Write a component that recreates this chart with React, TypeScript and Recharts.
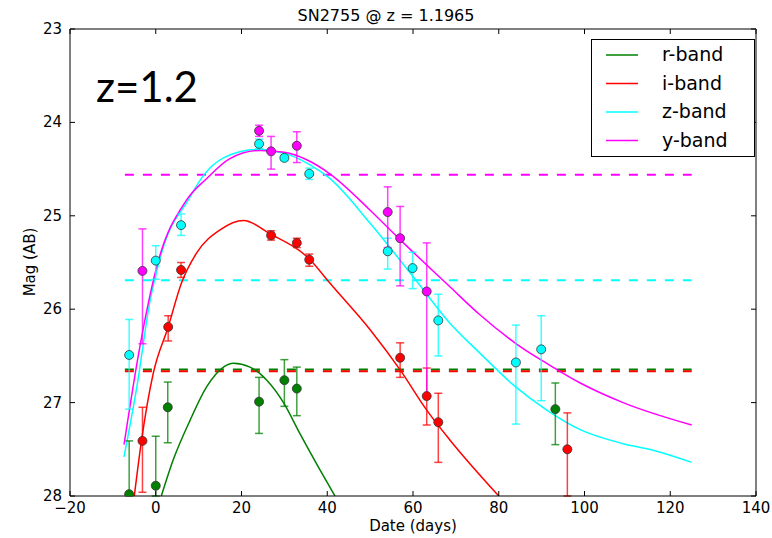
import React from "react";
import { ComposedChart, Line, Scatter, XAxis, YAxis, ErrorBar, Legend } from "recharts";

const xTicks = [-20, 0, 20, 40, 60, 80, 100, 120, 140];
const yTicks = [23, 24, 25, 26, 27, 28];
const magFaint = 28;

// photometry: day, mag, err = [towards bright, towards faint]
const rPoints = [
  { day: -6.2, mag: 27.98, err: [0.57, 0.57] },
  { day: 0, mag: 27.89, err: [0.53, 0.53] },
  { day: 2.8, mag: 27.05, err: [0.27, 0.38] },
  { day: 24.1, mag: 26.99, err: [0.26, 0.34] },
  { day: 30, mag: 26.76, err: [0.22, 0.28] },
  { day: 32.9, mag: 26.85, err: [0.23, 0.29] },
  { day: 93.2, mag: 27.07, err: [0.28, 0.38] },
];

const iPoints = [
  { day: -3.1, mag: 27.41, err: [0.36, 0.55] },
  { day: 2.9, mag: 26.19, err: [0.12, 0.15] },
  { day: 5.9, mag: 25.58, err: [0.08, 0.08] },
  { day: 26.9, mag: 25.21, err: [0.05, 0.05] },
  { day: 32.9, mag: 25.29, err: [0.05, 0.05] },
  { day: 35.8, mag: 25.47, err: [0.06, 0.07] },
  { day: 57, mag: 26.52, err: [0.16, 0.21] },
  { day: 63.2, mag: 26.93, err: [0.3, 0.31] },
  { day: 65.9, mag: 27.21, err: [0.31, 0.43] },
  { day: 96, mag: 27.5, err: [0.39, 0.6] },
];

const zPoints = [
  { day: -6.2, mag: 26.49, err: [0.38, 0.58] },
  { day: 0, mag: 25.48, err: [0.16, 0.2] },
  { day: 5.9, mag: 25.1, err: [0.12, 0.11] },
  { day: 24.1, mag: 24.23, err: [0.05, 0.05] },
  { day: 30, mag: 24.38, err: [0.03, 0.03] },
  { day: 35.8, mag: 24.55, err: [0.06, 0.06] },
  { day: 54.1, mag: 25.38, err: [0.14, 0.19] },
  { day: 59.9, mag: 25.56, err: [0.17, 0.22] },
  { day: 65.9, mag: 26.12, err: [0.28, 0.38] },
  { day: 84, mag: 26.57, err: [0.4, 0.66] },
  { day: 89.9, mag: 26.43, err: [0.36, 0.55] },
];

const yPoints = [
  { day: -3.1, mag: 25.59, err: [0.45, 0.78] },
  { day: 24.1, mag: 24.09, err: [0.06, 0.06] },
  { day: 26.9, mag: 24.31, err: [0.16, 0.19] },
  { day: 32.9, mag: 24.25, err: [0.15, 0.18] },
  { day: 54.1, mag: 24.96, err: [0.27, 0.38] },
  { day: 57, mag: 25.24, err: [0.34, 0.51] },
  { day: 63.2, mag: 25.81, err: [0.52, 1.11] },
];

// model light curves
const rCurve = [
  { day: 1.3, mag: 28.0 }, { day: 4.1, mag: 27.61 }, { day: 8, mag: 27.19 },
  { day: 11.9, mag: 26.83 }, { day: 15.8, mag: 26.62 }, { day: 18.1, mag: 26.58 },
  { day: 22, mag: 26.62 }, { day: 25.9, mag: 26.76 }, { day: 29.8, mag: 27.0 },
  { day: 33.6, mag: 27.33 }, { day: 38.3, mag: 27.72 }, { day: 41.8, mag: 28.0 },
];

const iCurve = [
  { day: -5, mag: 28.0 }, { day: -3.3, mag: 27.4 }, { day: -0.6, mag: 26.69 },
  { day: 2.9, mag: 26.19 }, { day: 6, mag: 25.72 }, { day: 9.5, mag: 25.4 },
  { day: 15, mag: 25.15 }, { day: 20.5, mag: 25.05 }, { day: 26.6, mag: 25.19 },
  { day: 36, mag: 25.47 }, { day: 40.6, mag: 25.72 }, { day: 50, mag: 26.22 },
  { day: 57, mag: 26.65 }, { day: 63.2, mag: 27.08 }, { day: 68.6, mag: 27.4 },
  { day: 80, mag: 28.0 },
];

const zCurve = [
  { day: -7.4, mag: 27.58 }, { day: -4.4, mag: 26.83 }, { day: -1.3, mag: 25.9 },
  { day: 1.8, mag: 25.33 }, { day: 7.6, mag: 24.83 }, { day: 11.1, mag: 24.57 },
  { day: 15.8, mag: 24.38 }, { day: 23.5, mag: 24.29 }, { day: 31.3, mag: 24.35 },
  { day: 35.8, mag: 24.45 }, { day: 40.6, mag: 24.6 }, { day: 50, mag: 25.08 },
  { day: 60, mag: 25.65 }, { day: 68.6, mag: 26.15 }, { day: 75.6, mag: 26.47 },
  { day: 83.4, mag: 26.81 }, { day: 91.2, mag: 27.08 }, { day: 99, mag: 27.29 },
  { day: 109, mag: 27.44 }, { day: 116, mag: 27.51 }, { day: 125, mag: 27.64 },
];

const yCurve = [
  { day: -7.4, mag: 27.45 }, { day: -3.7, mag: 26.4 }, { day: 0.2, mag: 25.55 },
  { day: 7.2, mag: 24.83 }, { day: 11.9, mag: 24.6 }, { day: 17.2, mag: 24.39 },
  { day: 24.3, mag: 24.3 }, { day: 30, mag: 24.32 }, { day: 35.2, mag: 24.4 },
  { day: 40.6, mag: 24.55 }, { day: 50, mag: 24.94 }, { day: 56.2, mag: 25.22 },
  { day: 68.6, mag: 25.76 }, { day: 75.6, mag: 26.06 }, { day: 85, mag: 26.4 },
  { day: 91.2, mag: 26.58 }, { day: 99, mag: 26.79 }, { day: 109, mag: 27.0 },
  { day: 125, mag: 27.24 },
];

// detection limits (dashed)
const limitDays = [-7.2, 125];
const rLimit = 26.645;
const iLimit = 26.665;
const zLimit = 25.69;
const yLimit = 24.56;

type Pt = { day: number; mag: number; err: number[] };
// error bars stop at the bottom of the axes, like the clipped originals
const clipErr = (pts: Pt[]) =>
  pts.map((p) => ({ ...p, err: [p.err[0], Math.min(p.err[1], magFaint - p.mag)] }));

const bands = [
  { name: "r-band", color: "#008000", points: clipErr(rPoints), curve: rCurve, limit: rLimit },
  { name: "i-band", color: "#ff0000", points: clipErr(iPoints), curve: iCurve, limit: iLimit },
  { name: "z-band", color: "#00ffff", points: clipErr(zPoints), curve: zCurve, limit: zLimit },
  { name: "y-band", color: "#ff00ff", points: clipErr(yPoints), curve: yCurve, limit: yLimit },
];

const FONT = "'DejaVu Sans', sans-serif";
const fmt = (v: number) => (v < 0 ? "\u2212" + Math.abs(v) : String(v));

const BottomTick = (p: any) => (
  <g>
    <line x1={p.x} y1={p.y} x2={p.x} y2={p.y - 5} stroke="#000" />
    <text x={p.x} y={p.y + 17} textAnchor="middle" fontSize={15} fontFamily={FONT} fill="#000">
      {fmt(p.payload.value)}
    </text>
  </g>
);
const TopTick = (p: any) => <line x1={p.x} y1={p.y} x2={p.x} y2={p.y + 5} stroke="#000" />;
const LeftTick = (p: any) => (
  <g>
    <line x1={p.x} y1={p.y} x2={p.x + 5} y2={p.y} stroke="#000" />
    <text x={p.x - 8} y={p.y + 5} textAnchor="end" fontSize={15} fontFamily={FONT} fill="#000">
      {p.payload.value}
    </text>
  </g>
);
const RightTick = (p: any) => <line x1={p.x} y1={p.y} x2={p.x - 5} y2={p.y} stroke="#000" />;

const renderLegend = () => (
  <div style={{ width: 164, height: 118, border: "1px solid #000", boxSizing: "border-box", background: "#fff" }}>
    <svg width={162} height={116}>
      {bands.map((b, i) => {
        const cy = 15 + i * 28.5;
        return (
          <g key={b.name}>
            <line x1={14} x2={46} y1={cy} y2={cy} stroke={b.color} strokeWidth={1.5} />
            <text x={70} y={cy + 6} fontSize={19} fontFamily={FONT} fill="#000">{b.name}</text>
          </g>
        );
      })}
    </svg>
  </div>
);

export default function App() {
  return (
    <div style={{ position: "absolute", left: 0, top: 0, width: 772, height: 538, background: "#fff" }}>
      <ComposedChart width={772} height={538} margin={{ top: 0, right: 0, bottom: 0, left: 0 }}>
        <XAxis dataKey="day" type="number" domain={[-20, 140]} ticks={xTicks} interval={0}
          allowDataOverflow height={42} tickSize={0} tickMargin={0} tick={BottomTick}
          axisLine={{ stroke: "#000" }} />
        <XAxis xAxisId="top" orientation="top" dataKey="day" type="number" domain={[-20, 140]}
          ticks={xTicks} interval={0} allowDataOverflow height={29} tickSize={0} tickMargin={0}
          tick={TopTick} axisLine={{ stroke: "#000" }} />
        <YAxis dataKey="mag" type="number" domain={[23, magFaint]} reversed ticks={yTicks} interval={0}
          allowDataOverflow width={70} tickSize={0} tickMargin={0} tick={LeftTick}
          axisLine={{ stroke: "#000" }} />
        <YAxis yAxisId="right" orientation="right" type="number" domain={[23, magFaint]} reversed
          ticks={yTicks} interval={0} allowDataOverflow width={16} tickSize={0} tickMargin={0}
          tick={RightTick} axisLine={{ stroke: "#000" }} />
        {bands.map((b) => (
          <Line key={b.name + "-lim"} data={limitDays.map((d) => ({ day: d, mag: b.limit }))}
            dataKey="mag" stroke={b.color} strokeWidth={2} strokeDasharray="9 9" dot={false}
            legendType="none" isAnimationActive={false} />
        ))}
        {bands.map((b) => (
          <Line key={b.name + "-fit"} name={b.name} data={b.curve} dataKey="mag" type="monotone"
            stroke={b.color} strokeWidth={1.5} dot={false} isAnimationActive={false} />
        ))}
        {bands.map((b) => (
          <Scatter key={b.name + "-pts"} data={b.points} dataKey="mag" legendType="none"
            isAnimationActive={false}
            shape={(p: any) => (
              <circle cx={p.cx} cy={p.cy} r={4.5} fill={b.color} stroke="#333" strokeWidth={0.8} />
            )}>
            <ErrorBar dataKey="err" direction="y" width={4} stroke={b.color} strokeWidth={1.5}
              strokeOpacity={0.75} isAnimationActive={false} />
          </Scatter>
        ))}
        <Legend layout="vertical" align="center" verticalAlign="middle" content={renderLegend}
          wrapperStyle={{ left: 591, top: 39, width: 164, height: 118 }} />
      </ComposedChart>
      <svg width={772} height={538} style={{ position: "absolute", left: 0, top: 0, pointerEvents: "none" }}>
        <text x={386} y={21} textAnchor="middle" fontSize={16} fontFamily={FONT} fill="#000">
          SN2755 @ z = 1.1965
        </text>
        <text x={96} y={102} fontSize={42} fontFamily="Lato, 'Open Sans', sans-serif" fill="#000">z=1.2</text>
        <text x={413} y={531} textAnchor="middle" fontSize={15} fontFamily={FONT} fill="#000">Date (days)</text>
        <text x={0} y={0} transform="translate(35,262) rotate(-90)" textAnchor="middle" fontSize={15}
          fontFamily={FONT} fill="#000">Mag (AB)</text>
      </svg>
    </div>
  );
}
